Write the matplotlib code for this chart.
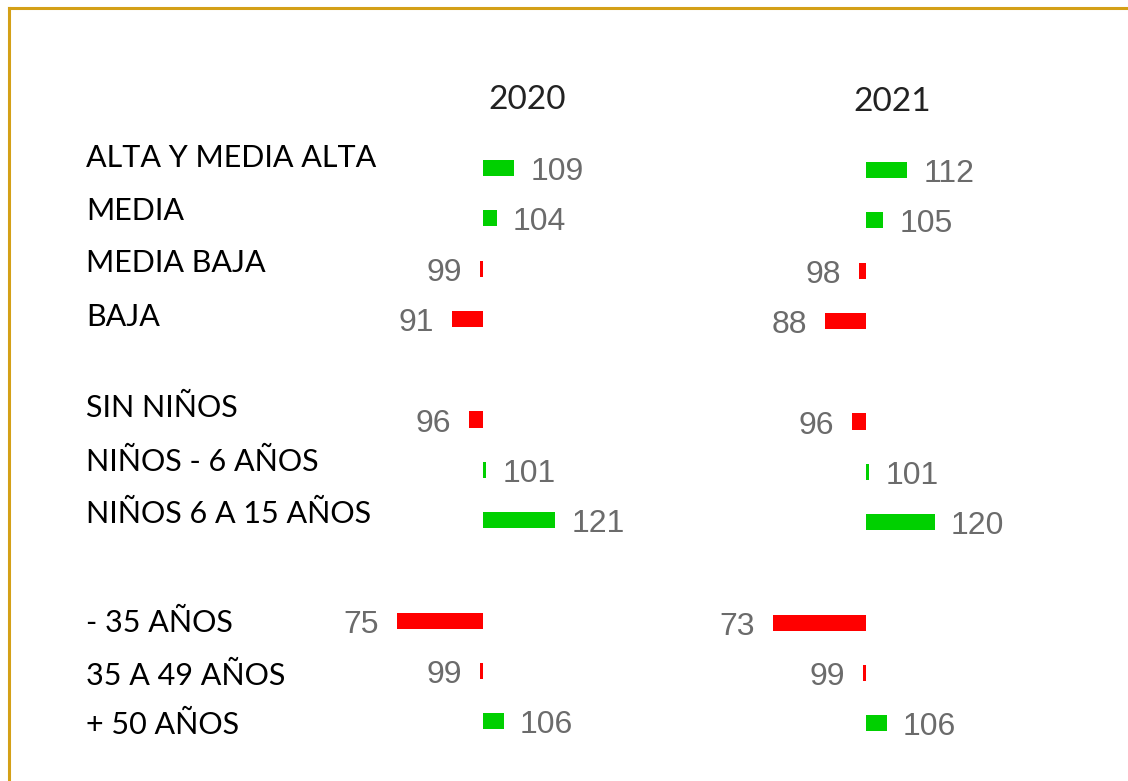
import matplotlib.pyplot as plt
from matplotlib.lines import Line2D

categories = ["ALTA Y MEDIA ALTA", "MEDIA", "MEDIA BAJA", "BAJA",
              "SIN NIÑOS", "NIÑOS - 6 AÑOS", "NIÑOS 6 A 15 AÑOS",
              "- 35 AÑOS", "35 A 49 AÑOS", "+ 50 AÑOS"]
years = ["2020", "2021"]
vals_2020 = [109, 104, 99, 91, 96, 101, 121, 75, 99, 106]
vals_2021 = [112, 105, 98, 88, 96, 101, 120, 73, 99, 106]
base = 100

# row slots (gaps between groups)
rows = [0, 1, 2, 3, 5, 6, 7, 9, 10, 11]
label_y_px = [158, 211, 263, 317, 408, 462, 514, 623, 676, 725]

W, H = 1128, 781
fig = plt.figure(figsize=(W / 100, H / 100), dpi=100)

PX_PER_UNIT = 3.44
ROW_PX = 50.3
GREEN = "#00d000"
RED = "#ff0000"
GRAY = "#6b6b6b"
label_font = "Lato"
num_font = "Liberation Sans"


def make_axes(left_px, right_px, center_px, top_px, bottom_px, row0_px):
    ax = fig.add_axes([left_px / W, 1 - bottom_px / H,
                       (right_px - left_px) / W, (bottom_px - top_px) / H])
    ax.set_xlim(base - (center_px - left_px) / PX_PER_UNIT,
                base + (right_px - center_px) / PX_PER_UNIT)
    ax.set_ylim((bottom_px - row0_px) / ROW_PX, (top_px - row0_px) / ROW_PX)
    ax.axis("off")
    return ax


cols = [(vals_2020, 330, 700, 483, 168, 527, 100),
        (vals_2021, 700, 1100, 866, 170, 892, 102)]

for (vals, lpx, rpx, cpx, r0, yx, yy), year in zip(cols, years):
    ax = make_axes(lpx, rpx, cpx, 120, 770, r0)
    colors = [GREEN if v >= base else RED for v in vals]
    ax.barh(rows, [v - base for v in vals], left=base, height=0.32,
            color=colors)
    for r, v in zip(rows, vals):
        off = 4.7 if v >= base else -5.2
        ax.text(v + off, r + 0.08, str(v), ha="left" if v >= base else "right",
                va="center", fontsize=23, color=GRAY, family=num_font)
    fig.text(yx / W, 1 - yy / H, year, ha="center", va="center",
             fontsize=24, color="#222222", family=label_font)

for cat, ypx in zip(categories, label_y_px):
    fig.text(86 / W, 1 - ypx / H, cat, ha="left", va="center",
             fontsize=22, color="black", family=label_font)

gold = "#d4a017"
fig.add_artist(Line2D([9 / W, 1], [1 - 8 / H, 1 - 8 / H], color=gold, lw=2.2))
fig.add_artist(Line2D([9 / W, 9 / W], [0, 1 - 8 / H], color=gold, lw=2.2))

fig.savefig("out.png", dpi=100)
